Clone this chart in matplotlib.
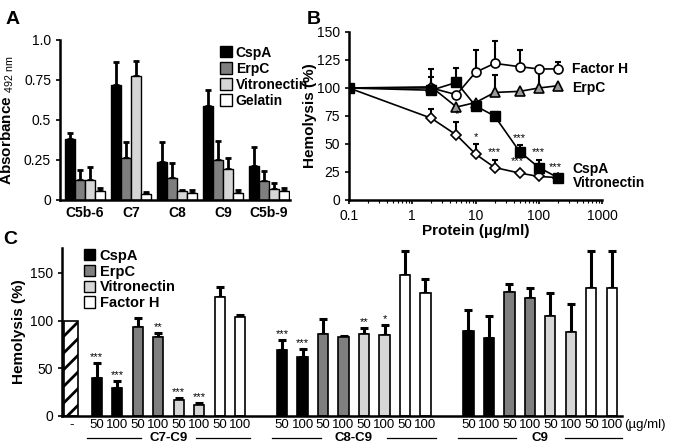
import numpy as np
import matplotlib.pyplot as plt
import matplotlib.transforms as mtransforms
from matplotlib.patches import Patch

plt.rcParams['font.family'] = ['Liberation Sans', 'DejaVu Sans']
plt.rcParams['mathtext.fontset'] = 'custom'
plt.rcParams['mathtext.rm'] = 'Liberation Sans'
plt.rcParams['mathtext.bf'] = 'Liberation Sans:bold'
plt.rcParams['hatch.linewidth'] = 2.0

# ---- panel A data
a_cats = ['C5b-6', 'C7', 'C8', 'C9', 'C5b-9']
a_names = ['CspA', 'ErpC', 'Vitronectin', 'Gelatin']
a_cspa = [0.38, 0.72, 0.24, 0.585, 0.21]
a_erpc = [0.125, 0.26, 0.14, 0.25, 0.12]
a_vitro = [0.125, 0.775, 0.055, 0.195, 0.07]
a_gel = [0.055, 0.04, 0.045, 0.045, 0.055]
a_cspa_err = [0.04, 0.14, 0.12, 0.10, 0.12]
a_erpc_err = [0.06, 0.105, 0.09, 0.12, 0.06]
a_vitro_err = [0.08, 0.095, 0.01, 0.07, 0.035]
a_gel_err = [0.02, 0.01, 0.015, 0.015, 0.02]

# ---- panel B data
b_x = [0.1, 2, 5, 10, 20, 50, 100, 200]
b_cspa = [100, 98, 105, 84, 75, 43, 29, 20]
b_cspa_err = [0, 5, 13, 0, 4, 6, 7, 0]
b_vitro = [100, 73, 58, 41, 29, 24, 21, 20]
b_vitro_err = [0, 8, 12, 9, 7, 0, 0, 0]
b_fh = [100, 100, 94, 114, 122, 119, 117, 117]
b_fh_err = [0, 10, 0, 20, 20, 15, 0, 6]
b_erpc = [100, 101, 83, 87, 96, 97, 100, 102]
b_erpc_err = [0, 16, 0, 0, 16, 0, 17, 0]
b_stars = [(5, 72, '*'), (10, 52, '*'), (20, 38, '***'), (45, 30, '***'),
           (50, 51, '***'), (100, 38, '***'), (185, 25, '***')]

# ---- panel C data
c_groups = ['C7-C9', 'C8-C9', 'C9']
c_doses = ['50', '100', '50', '100', '50', '100', '50', '100']
c_c7 = [40, 29, 93, 83, 17, 12, 125, 104]
c_c7_err = [15, 8, 10, 4, 1.5, 1.5, 10, 1.5]
c_c8 = [69.5, 62, 85.6, 82.5, 86, 85, 147.7, 128.4]
c_c8_err = [10.5, 8, 16.5, 1.5, 6, 10, 25, 14.6]
c_c9 = [89.5, 82, 130, 124, 105, 88, 134, 134]
c_c9_err = [21.5, 23, 8.6, 10, 24, 29.5, 38.6, 38.6]
c_c7_stars = ['***', '***', '', '**', '***', '***', '', '']
c_c8_stars = ['***', '***', '', '', '**', '*', '', '']
c_c9_stars = ['', '', '', '', '', '', '', '']
c_ctrl = 100
c_names = ['CspA', 'ErpC', 'Vitronectin', 'Factor H']

black = '#000000'
dgray = '#7f7f7f'
lgray = '#d6d6d6'
white = '#ffffff'

fig = plt.figure(figsize=(6.75, 4.45), dpi=100)

# ================= A
axA = fig.add_axes([0.089, 0.5506, 0.341, 0.3596])
x = np.arange(len(a_cats))
w = 0.22
a_vals = [a_cspa, a_erpc, a_vitro, a_gel]
a_errs = [a_cspa_err, a_erpc_err, a_vitro_err, a_gel_err]
a_cols = [black, dgray, lgray, white]
for i in range(4):
    xs = x + (i - 1.5) * w
    axA.bar(xs, a_vals[i], w, color=a_cols[i], edgecolor='black', linewidth=1,
            label=a_names[i], zorder=2)
    axA.errorbar(xs, a_vals[i], yerr=[np.zeros(5), a_errs[i]], fmt='none',
                 ecolor='black', elinewidth=2, capsize=2.5, capthick=2, zorder=1)
axA.set_xlim(-0.54, 4.46)
axA.set_ylim(0, 1.0)
axA.set_yticks([0, 0.25, 0.5, 0.75, 1.0])
axA.set_yticklabels(['0', '0.25', '0.5', '0.75', '1.0'], fontsize=10)
axA.set_xticks(x)
axA.set_xticklabels(a_cats, fontsize=10, fontweight='bold')
axA.tick_params(axis='x', length=0, pad=4)
axA.tick_params(axis='y', length=3, width=1.2)
for s in ['top', 'right']:
    axA.spines[s].set_visible(False)
for s in ['left', 'bottom']:
    axA.spines[s].set_linewidth(1.8)
axA.set_ylabel(r'$\bf{Absorbance}$ $_{\rm 492\ nm}$', fontsize=11)
axA.yaxis.set_label_coords(-0.19, 0.5)
axA.legend(loc='upper left', bbox_to_anchor=(0.67, 1.0), frameon=False,
           handlelength=0.9, handleheight=0.9, handletextpad=0.25,
           labelspacing=0.15, borderaxespad=0,
           prop={'weight': 'bold', 'size': 10})

# ================= B
axB = fig.add_axes([0.517, 0.5506, 0.375, 0.3775])
lw = 1.2
for yv, ev in [(b_erpc, b_erpc_err), (b_fh, b_fh_err), (b_cspa, b_cspa_err), (b_vitro, b_vitro_err)]:
    axB.errorbar(b_x, yv, yerr=[np.zeros(8), ev], fmt='none',
                 ecolor='black', elinewidth=1.5, capsize=2.5, capthick=1.5)
axB.plot(b_x, b_vitro, '-D', color='black', mfc='white', mec='black', ms=5.5, lw=lw, mew=1.2)
axB.plot(b_x, b_fh, '-o', color='black', mfc='white', mec='black', ms=6.5, lw=lw, mew=1.2)
axB.plot(b_x, b_erpc, '-^', color='black', mfc='#9a9a9a', mec='black', ms=7.5, lw=lw, mew=1.2)
axB.plot(b_x, b_cspa, '-s', color='black', mfc='black', mec='black', ms=7.5, lw=lw)
for sx, sy, st in b_stars:
    axB.text(sx, sy, st, ha='center', va='bottom', fontsize=8)
axB.set_xscale('log')
axB.set_xlim(0.1, 1000)
axB.set_ylim(0, 150)
axB.set_yticks(np.arange(0, 151, 25))
axB.set_xticks([0.1, 1, 10, 100, 1000])
axB.set_xticklabels(['0.1', '1', '10', '100', '1000'])
axB.tick_params(labelsize=10, length=3, width=1.2)
axB.tick_params(which='minor', length=2, width=0.8)
for s in ['top', 'right']:
    axB.spines[s].set_visible(False)
for s in ['left', 'bottom']:
    axB.spines[s].set_linewidth(1.8)
axB.set_ylabel('Hemolysis (%)', fontsize=11, fontweight='bold')
axB.yaxis.set_label_coords(-0.125, 0.5)
axB.set_xlabel('Protein (µg/ml)', fontsize=11, fontweight='bold', labelpad=1)
axB.text(340, 117, 'Factor H', fontsize=10, fontweight='bold', va='center', ha='left', clip_on=False)
axB.text(340, 100, 'ErpC', fontsize=10, fontweight='bold', va='center', ha='left', clip_on=False)
axB.text(340, 27.5, 'CspA', fontsize=10, fontweight='bold', va='center', ha='left', clip_on=False)
axB.text(340, 15.5, 'Vitronectin', fontsize=10, fontweight='bold', va='center', ha='left', clip_on=False)

# ================= C
axC = fig.add_axes([0.0919, 0.0652, 0.8296, 0.3775])
starts = [1.25, 10.3, 19.4]
c_vals = [c_c7, c_c8, c_c9]
c_errs = [c_c7_err, c_c8_err, c_c9_err]
c_stars = [c_c7_stars, c_c8_stars, c_c9_stars]
c_cols = [black, black, dgray, dgray, lgray, lgray, white, white]
axC.bar([0], [c_ctrl], 0.68, color='white', edgecolor='black', hatch='//', linewidth=1.2)
tick_pos = [0]
tick_lab = ['-']
for g in range(3):
    xs = starts[g] + np.arange(8)
    axC.bar(xs, c_vals[g], 0.5, color=c_cols, edgecolor='black', linewidth=1.2, zorder=2)
    eb = axC.errorbar(xs, c_vals[g], yerr=[np.zeros(8), c_errs[g]], fmt='none',
                      ecolor='black', elinewidth=2.2, capsize=3, capthick=2.2, zorder=1)
    for art in eb.lines[1] + eb.lines[2]:
        art.set_clip_on(False)
    for xx, v, e, st in zip(xs, c_vals[g], c_errs[g], c_stars[g]):
        if st:
            axC.text(xx, v + e + 1, st, ha='center', va='bottom', fontsize=8)
    tick_pos += list(xs)
    tick_lab += c_doses
axC.set_xticks(tick_pos)
axC.set_xticklabels(tick_lab, fontsize=9.5)
axC.tick_params(axis='x', length=0, pad=2)
axC.tick_params(axis='y', length=3, width=1.2, labelsize=10)
axC.set_xlim(-0.45, 26.9)
axC.set_ylim(0, 176)
axC.set_yticks([0, 50, 100, 150])
for s in ['top', 'right']:
    axC.spines[s].set_visible(False)
for s in ['left', 'bottom']:
    axC.spines[s].set_linewidth(1.8)
axC.set_ylabel('Hemolysis (%)', fontsize=11, fontweight='bold')
axC.yaxis.set_label_coords(-0.064, 0.5)
trans = mtransforms.blended_transform_factory(axC.transData, axC.transAxes)
gaps = [1.35, 1.6, 1.2]
for g in range(3):
    lo = starts[g] - 0.5
    hi = starts[g] + 7.5
    mid = starts[g] + 3.5
    axC.plot([lo, mid - gaps[g]], [-0.13, -0.13], color='black', lw=0.9,
             transform=trans, clip_on=False)
    axC.plot([mid + gaps[g], hi], [-0.13, -0.13], color='black', lw=0.9,
             transform=trans, clip_on=False)
    axC.text(mid, -0.132, c_groups[g], transform=trans, ha='center', va='center',
             fontsize=9.5, fontweight='bold')
axC.text(1.003, -0.055, '(µg/ml)', transform=axC.transAxes, ha='left', va='center', fontsize=9.5)
handles = [Patch(facecolor=c, edgecolor='black', linewidth=1) for c in [black, dgray, lgray, white]]
axC.legend(handles, c_names, loc='upper left', bbox_to_anchor=(0.028, 1.03), frameon=False,
           handlelength=0.8, handleheight=0.8, handletextpad=0.3,
           labelspacing=0.12, borderaxespad=0,
           prop={'weight': 'bold', 'size': 10.5})

fig.text(0.008, 0.975, 'A', fontsize=14, fontweight='bold', va='top')
fig.text(0.455, 0.975, 'B', fontsize=14, fontweight='bold', va='top')
fig.text(0.005, 0.48, 'C', fontsize=14, fontweight='bold', va='top')

fig.savefig('out.png', dpi=100)
